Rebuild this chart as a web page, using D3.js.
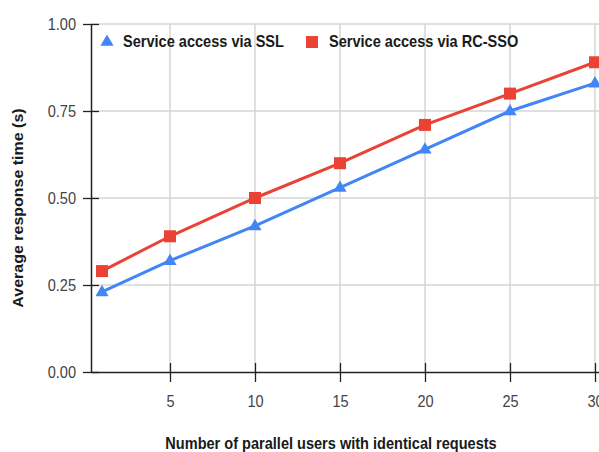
<!DOCTYPE html>
<html>
<head>
<meta charset="utf-8">
<script src="https://cdn.jsdelivr.net/npm/d3@7"></script>
<style>
  html, body { margin: 0; padding: 0; background: #fff; }
  svg { display: block; font-family: "Liberation Sans", Arial, sans-serif; }
</style>
</head>
<body>
<svg id="chart" width="599" height="452"></svg>
<script>
// Parallel users and average response time (seconds) per access method
const users = [1, 5, 10, 15, 20, 25, 30];
const sslTimes = [0.23, 0.32, 0.42, 0.53, 0.64, 0.75, 0.83];
const rcssoTimes = [0.29, 0.39, 0.50, 0.60, 0.71, 0.80, 0.89];
const xTicks = [5, 10, 15, 20, 25, 30];
const yTicks = [0, 0.25, 0.5, 0.75, 1.0];
const seriesNames = ["Service access via SSL", "Service access via RC-SSO"];
const xTitle = "Number of parallel users with identical requests";
const yTitle = "Average response time (s)";

const svg = d3.select("#chart");
const plotLeft = 91, plotTop = 24, plotBottom = 372, plotRight = 620;
const squeeze = 0.91; // narrow labels

const x = d3.scaleLinear().domain([1, 30]).range([102, 595]);
const xMin = x.invert(plotLeft);
const xMax = x.invert(plotRight);
const y = d3.scaleLinear().domain([0, 1]).range([plotBottom, plotTop]);

// grid
const grid = svg.append("g");
grid.selectAll("line.v").data(xTicks).join("line")
  .attr("x1", d => x(d)).attr("x2", d => x(d))
  .attr("y1", plotTop).attr("y2", plotBottom)
  .attr("stroke", "#d6d6d6").attr("stroke-width", 1.5);
grid.selectAll("line.h").data(yTicks.filter(d => d > 0)).join("line")
  .attr("x1", plotLeft).attr("x2", plotRight)
  .attr("y1", d => y(d)).attr("y2", d => y(d))
  .attr("stroke", "#d6d6d6").attr("stroke-width", 1.5);

// axes
const xAxis = d3.axisBottom(d3.scaleLinear().domain([xMin, xMax]).range([plotLeft, plotRight]))
  .tickValues(xTicks).tickSize(0).tickPadding(0).tickFormat(d3.format("d"));
const gx = svg.append("g").attr("transform", `translate(0,${plotBottom})`).call(xAxis);
gx.attr("font-family", null).attr("font-size", null);
gx.select(".domain").attr("stroke", "#222").attr("stroke-width", 1.5);
gx.selectAll(".tick line").attr("y1", -9).attr("y2", 10).attr("stroke", "#222").attr("stroke-width", 1.3);
gx.selectAll(".tick text").attr("y", 35).attr("dy", 0).attr("fill", "#444")
  .attr("font-size", 16).attr("transform", `scale(${squeeze},1)`);

const yAxis = d3.axisLeft(y).tickValues(yTicks).tickSize(0).tickPadding(0).tickFormat(d3.format(".2f"));
const gy = svg.append("g").attr("transform", `translate(${plotLeft},0)`).call(yAxis);
gy.attr("font-family", null).attr("font-size", null);
gy.select(".domain").attr("stroke", "#222").attr("stroke-width", 1.5);
gy.selectAll(".tick line").attr("x1", -8).attr("x2", 8).attr("stroke", "#222").attr("stroke-width", 1.3);
gy.selectAll(".tick text").attr("x", -15 / squeeze).attr("dy", "0.35em").attr("fill", "#444")
  .attr("font-size", 16).attr("transform", `scale(${squeeze},1)`);

// series
const line = d3.line().x((d, i) => x(users[i])).y(d => y(d));
svg.append("path").datum(sslTimes).attr("d", line)
  .attr("fill", "none").attr("stroke", "#4285f4").attr("stroke-width", 3);
svg.append("path").datum(rcssoTimes).attr("d", line)
  .attr("fill", "none").attr("stroke", "#ea4335").attr("stroke-width", 3);

const tri = d3.symbol().type(d3.symbolTriangle).size(75);
svg.append("g").selectAll("path").data(sslTimes).join("path")
  .attr("d", tri)
  .attr("transform", (d, i) => `translate(${x(users[i])},${y(d) + 0.5})`)
  .attr("fill", "#4285f4");
svg.append("g").selectAll("rect").data(rcssoTimes).join("rect")
  .attr("x", (d, i) => x(users[i]) - 6).attr("y", d => y(d) - 6)
  .attr("width", 12).attr("height", 12).attr("fill", "#ea4335");

// bold label helper
function boldText(tx, ty, str, anchor, extra) {
  return svg.append("text")
    .attr("transform", `translate(${tx},${ty}) ${extra || ""} scale(${squeeze},1)`)
    .attr("text-anchor", anchor)
    .attr("font-weight", "bold").attr("font-size", 16).attr("fill", "#1a1a1a")
    .text(str);
}

// legend
svg.append("path").attr("d", tri).attr("transform", "translate(107,42)").attr("fill", "#4285f4");
boldText(123, 47, seriesNames[0], "start");
svg.append("rect").attr("x", 306).attr("y", 36).attr("width", 12).attr("height", 12).attr("fill", "#ea4335");
boldText(329, 47, seriesNames[1], "start");

// axis titles
boldText(331, 449, xTitle, "middle");
svg.append("text")
  .attr("transform", `translate(23,208) rotate(-90) scale(1,${squeeze})`)
  .attr("text-anchor", "middle")
  .attr("font-weight", "bold").attr("font-size", 16).attr("fill", "#1a1a1a")
  .text(yTitle);
</script>
</body>
</html>
